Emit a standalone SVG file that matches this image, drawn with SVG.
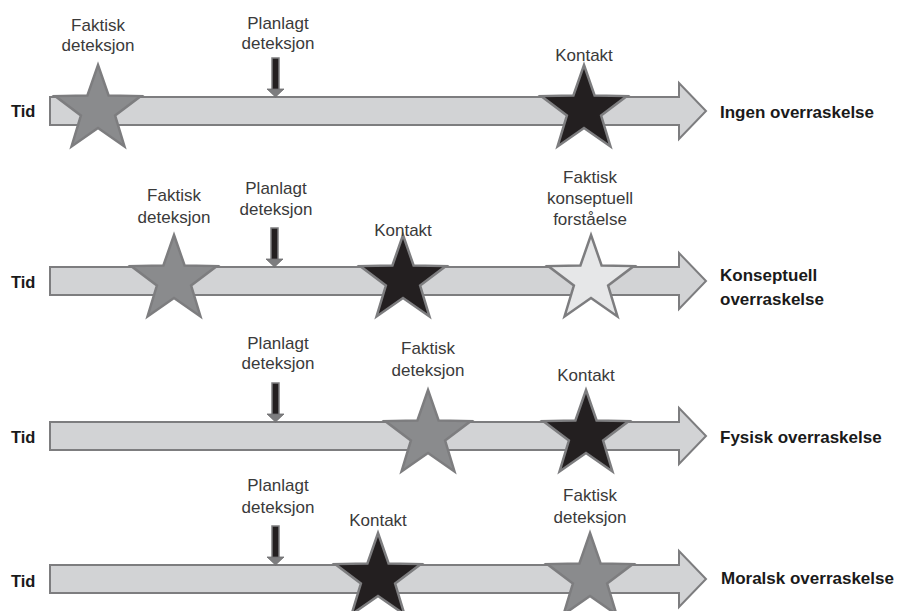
<svg xmlns="http://www.w3.org/2000/svg" xmlns:xlink="http://www.w3.org/1999/xlink" width="897" height="611" viewBox="0 0 897 611">
<style>
.bar{fill:#d2d3d5;stroke:#7d7d7f;stroke-width:2;stroke-linejoin:miter}
.st{stroke:#7d7d7f;stroke-width:2.5;stroke-linejoin:miter}
.det{fill:#8a8b8d}
.kon{fill:#231f20}
.lys{fill:#e6e7e8}
.lbl{font-family:"Liberation Sans",Arial,sans-serif;font-size:17px;fill:#3a3a3a;text-anchor:middle}
.tid{font-family:"Liberation Sans",Arial,sans-serif;font-size:16.5px;font-weight:bold;fill:#1a1a1a}
.res{font-family:"Liberation Sans",Arial,sans-serif;font-size:17px;font-weight:bold;fill:#1a1a1a}
</style>
<defs>
<path id="arrow" d="M50,-14 H679 V-28 L706,0 L679,28 V14 H50 Z"/>
<path id="star" d="M0,-45 L10.58,-14.56 L42.8,-13.91 L17.12,5.56 L26.45,36.41 L0,18 L-26.45,36.41 L-17.12,5.56 L-42.8,-13.91 L-10.58,-14.56 Z"/>
<g id="plan">
<rect x="-3.5" y="-53" width="7" height="32" fill="#231f20" stroke="#7d7d7f" stroke-width="1.5"/>
<path d="M-8.5,-22 H8.5 L0,-14 Z" fill="#7d7d7f" stroke="#6d6d6f" stroke-width="0.8"/>
</g>
</defs>

<!-- Row 1 -->
<g id="row1">
<g id="r1-bar"><use xlink:href="#arrow" y="111" class="bar"/><text class="tid" x="11" y="117">Tid</text><text class="res" x="720" y="118">Ingen overraskelse</text></g>
<g id="r1-faktisk"><use xlink:href="#star" x="98" y="110" class="st det"/><text class="lbl" x="98" y="31">Faktisk</text><text class="lbl" x="98" y="51">deteksjon</text></g>
<g id="r1-kontakt"><use xlink:href="#star" x="584" y="110" class="st kon"/><text class="lbl" x="584" y="61">Kontakt</text></g>
</g>

<!-- Row 2 -->
<g id="row2">
<g id="r2-bar"><use xlink:href="#arrow" y="281" class="bar"/><text class="tid" x="11" y="288">Tid</text><text class="res" x="720" y="281">Konseptuell</text><text class="res" x="720" y="305">overraskelse</text></g>
<g id="r2-faktisk"><use xlink:href="#star" x="174" y="280" class="st det"/><text class="lbl" x="174" y="201">Faktisk</text><text class="lbl" x="174" y="223">deteksjon</text></g>
<g id="r2-kontakt"><use xlink:href="#star" x="403" y="280" class="st kon"/><text class="lbl" x="403" y="236">Kontakt</text></g>
<g id="r2-forstaaelse"><use xlink:href="#star" x="591" y="280" class="st lys"/><text class="lbl" x="590" y="183">Faktisk</text><text class="lbl" x="590" y="204">konseptuell</text><text class="lbl" x="590" y="225">forståelse</text></g>
</g>

<!-- Row 3 -->
<g id="row3">
<g id="r3-bar"><use xlink:href="#arrow" y="436" class="bar"/><text class="tid" x="11" y="443">Tid</text><text class="res" x="720" y="443">Fysisk overraskelse</text></g>
<g id="r3-faktisk"><use xlink:href="#star" x="428" y="435" class="st det"/><text class="lbl" x="428" y="354">Faktisk</text><text class="lbl" x="428" y="376">deteksjon</text></g>
<g id="r3-kontakt"><use xlink:href="#star" x="586" y="435" class="st kon"/><text class="lbl" x="586" y="381">Kontakt</text></g>
</g>

<!-- Row 4 -->
<g id="row4">
<g id="r4-bar"><use xlink:href="#arrow" y="579" class="bar"/><text class="tid" x="11" y="587">Tid</text><text class="res" x="721" y="584">Moralsk overraskelse</text></g>
<g id="r4-kontakt"><use xlink:href="#star" x="378" y="578" class="st kon"/><text class="lbl" x="378" y="526">Kontakt</text></g>
<g id="r4-faktisk"><use xlink:href="#star" x="590" y="578" class="st det"/><text class="lbl" x="590" y="501">Faktisk</text><text class="lbl" x="590" y="523">deteksjon</text></g>
</g>

<!-- Planned detection pointers -->
<g id="connectors">
<g id="r1-planlagt"><use xlink:href="#plan" x="275.5" y="111"/><text class="lbl" x="278" y="29">Planlagt</text><text class="lbl" x="278" y="49">deteksjon</text></g>
<g id="r2-planlagt"><use xlink:href="#plan" x="274.5" y="281"/><text class="lbl" x="276" y="194">Planlagt</text><text class="lbl" x="276" y="215">deteksjon</text></g>
<g id="r3-planlagt"><use xlink:href="#plan" x="275.5" y="436"/><text class="lbl" x="278" y="349">Planlagt</text><text class="lbl" x="278" y="369">deteksjon</text></g>
<g id="r4-planlagt"><use xlink:href="#plan" x="275.5" y="579"/><text class="lbl" x="278" y="491">Planlagt</text><text class="lbl" x="278" y="513">deteksjon</text></g>
</g>
</svg>
